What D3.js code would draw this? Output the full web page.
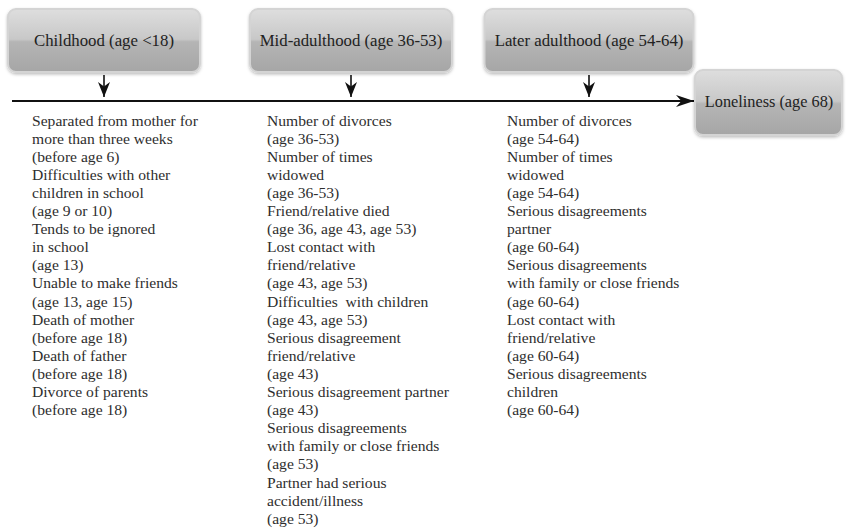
<!DOCTYPE html>
<html>
<head>
<meta charset="utf-8">
<script src="https://cdn.jsdelivr.net/npm/d3@7"></script>
<style>
  body { margin: 0; background: #fff; }
  svg { display: block; }
</style>
</head>
<body>
<svg></svg>
<script>
let stages = ["Childhood (age <18)", "Mid-adulthood (age 36-53)", "Later adulthood (age 54-64)"]
let outcome = "Loneliness (age 68)"

let childhood = [
  "Separated from mother for", "more than three weeks", "(before age 6)",
  "Difficulties with other", "children in school", "(age 9 or 10)",
  "Tends to be ignored", "in school", "(age 13)",
  "Unable to make friends", "(age 13, age 15)",
  "Death of mother", "(before age 18)",
  "Death of father", "(before age 18)",
  "Divorce of parents", "(before age 18)"
]
let midAdulthood = [
  "Number of divorces", "(age 36-53)",
  "Number of times", "widowed", "(age 36-53)",
  "Friend/relative died", "(age 36, age 43, age 53)",
  "Lost contact with", "friend/relative", "(age 43, age 53)",
  "Difficulties  with children", "(age 43, age 53)",
  "Serious disagreement", "friend/relative", "(age 43)",
  "Serious disagreement partner", "(age 43)",
  "Serious disagreements", "with family or close friends", "(age 53)",
  "Partner had serious", "accident/illness", "(age 53)"
]
let laterAdulthood = [
  "Number of divorces", "(age 54-64)",
  "Number of times", "widowed", "(age 54-64)",
  "Serious disagreements", "partner", "(age 60-64)",
  "Serious disagreements", "with family or close friends", "(age 60-64)",
  "Lost contact with", "friend/relative", "(age 60-64)",
  "Serious disagreements", "children", "(age 60-64)"
]
let columns = [childhood, midAdulthood, laterAdulthood]

let width = 846
let height = 529
let lineY = 101

let svg = d3.select('svg').attr('width', width).attr('height', height)

let defs = svg.append('defs')
let grad = defs.append('linearGradient').attr('id', 'boxGrad')
  .attr('x1', 0).attr('y1', 0).attr('x2', 0).attr('y2', 1)
grad.append('stop').attr('offset', '0%').attr('stop-color', '#dedede')
grad.append('stop').attr('offset', '48%').attr('stop-color', '#c8c8c8')
grad.append('stop').attr('offset', '52%').attr('stop-color', '#b5b5b5')
grad.append('stop').attr('offset', '100%').attr('stop-color', '#a6a6a6')

let shadow = defs.append('filter').attr('id', 'shadow')
  .attr('x', '-10%').attr('y', '-10%').attr('width', '120%').attr('height', '130%')
shadow.append('feDropShadow').attr('dx', 0).attr('dy', 1.5).attr('stdDeviation', 1.5)
  .attr('flood-color', '#000').attr('flood-opacity', 0.25)

defs.append('marker').attr('id', 'arrow')
  .attr('viewBox', '0 0 10 10').attr('refX', 10).attr('refY', 5)
  .attr('markerWidth', 15).attr('markerHeight', 12).attr('markerUnits', 'userSpaceOnUse')
  .attr('orient', 'auto').attr('preserveAspectRatio', 'none')
  .append('path').attr('d', 'M0,0 L10,5 L0,10 L3,5 Z').attr('fill', '#111')

defs.append('marker').attr('id', 'arrowBig')
  .attr('viewBox', '0 0 10 10').attr('refX', 10).attr('refY', 5)
  .attr('markerWidth', 18).attr('markerHeight', 12).attr('markerUnits', 'userSpaceOnUse')
  .attr('orient', 'auto').attr('preserveAspectRatio', 'none')
  .append('path').attr('d', 'M0,0 L10,5 L0,10 L3,5 Z').attr('fill', '#111')

// stage box centres and widths
let centerScale = d3.scaleOrdinal().domain(stages).range([104, 351, 589])
let widthScale = d3.scaleOrdinal().domain(stages).range([192, 202, 209])
let textLeft = d3.scaleOrdinal().domain(d3.range(3)).range([32, 267, 507])
let rowScale = d3.scaleLinear().domain([0, 1]).range([122, 140.1])

let font = '"Liberation Serif", "DejaVu Serif", serif'

// timeline
svg.append('line')
  .attr('x1', 12).attr('x2', 694)
  .attr('y1', lineY).attr('y2', lineY)
  .attr('stroke', '#111').attr('stroke-width', 1.8)
  .attr('marker-end', 'url(#arrowBig)')

let boxes = svg.selectAll('g.stage')
  .data(stages)
  .enter()
  .append('g')
  .attr('class', 'stage')

boxes.append('rect')
  .attr('x', d => centerScale(d) - widthScale(d) / 2)
  .attr('y', 9)
  .attr('width', d => widthScale(d))
  .attr('height', 63)
  .attr('rx', 8)
  .attr('fill', 'url(#boxGrad)')
  .attr('stroke', '#d4d4d4')
  .attr('stroke-width', 2)
  .attr('filter', 'url(#shadow)')

boxes.append('text')
  .attr('x', d => centerScale(d))
  .attr('y', 42)
  .attr('text-anchor', 'middle')
  .attr('dominant-baseline', 'middle')
  .attr('font-family', font)
  .attr('font-size', 16.8)
  .attr('fill', '#222')
  .text(d => d)

boxes.append('line')
  .attr('x1', d => centerScale(d)).attr('x2', d => centerScale(d))
  .attr('y1', 75).attr('y2', 97)
  .attr('stroke', '#111').attr('stroke-width', 1.6)
  .attr('marker-end', 'url(#arrow)')

// outcome box
let out = svg.append('g')
out.append('rect')
  .attr('x', 695).attr('y', 70)
  .attr('width', 147).attr('height', 65)
  .attr('rx', 8)
  .attr('fill', 'url(#boxGrad)')
  .attr('stroke', '#d4d4d4')
  .attr('stroke-width', 2)
  .attr('filter', 'url(#shadow)')
out.append('text')
  .attr('x', 769).attr('y', 103)
  .attr('text-anchor', 'middle')
  .attr('dominant-baseline', 'middle')
  .attr('font-family', font)
  .attr('font-size', 16.3)
  .attr('fill', '#222')
  .text(outcome)

// factor lists
columns.forEach((items, ci) => {
  svg.append('g')
    .selectAll('text')
    .data(items)
    .enter()
    .append('text')
    .attr('x', textLeft(ci))
    .attr('y', (d, i) => rowScale(i))
    .attr('dominant-baseline', 'middle')
    .attr('font-family', font)
    .attr('font-size', 15.6)
    .attr('fill', '#2e2e2e')
    .style('white-space', 'pre')
    .text(d => d)
})
</script>
</body>
</html>
